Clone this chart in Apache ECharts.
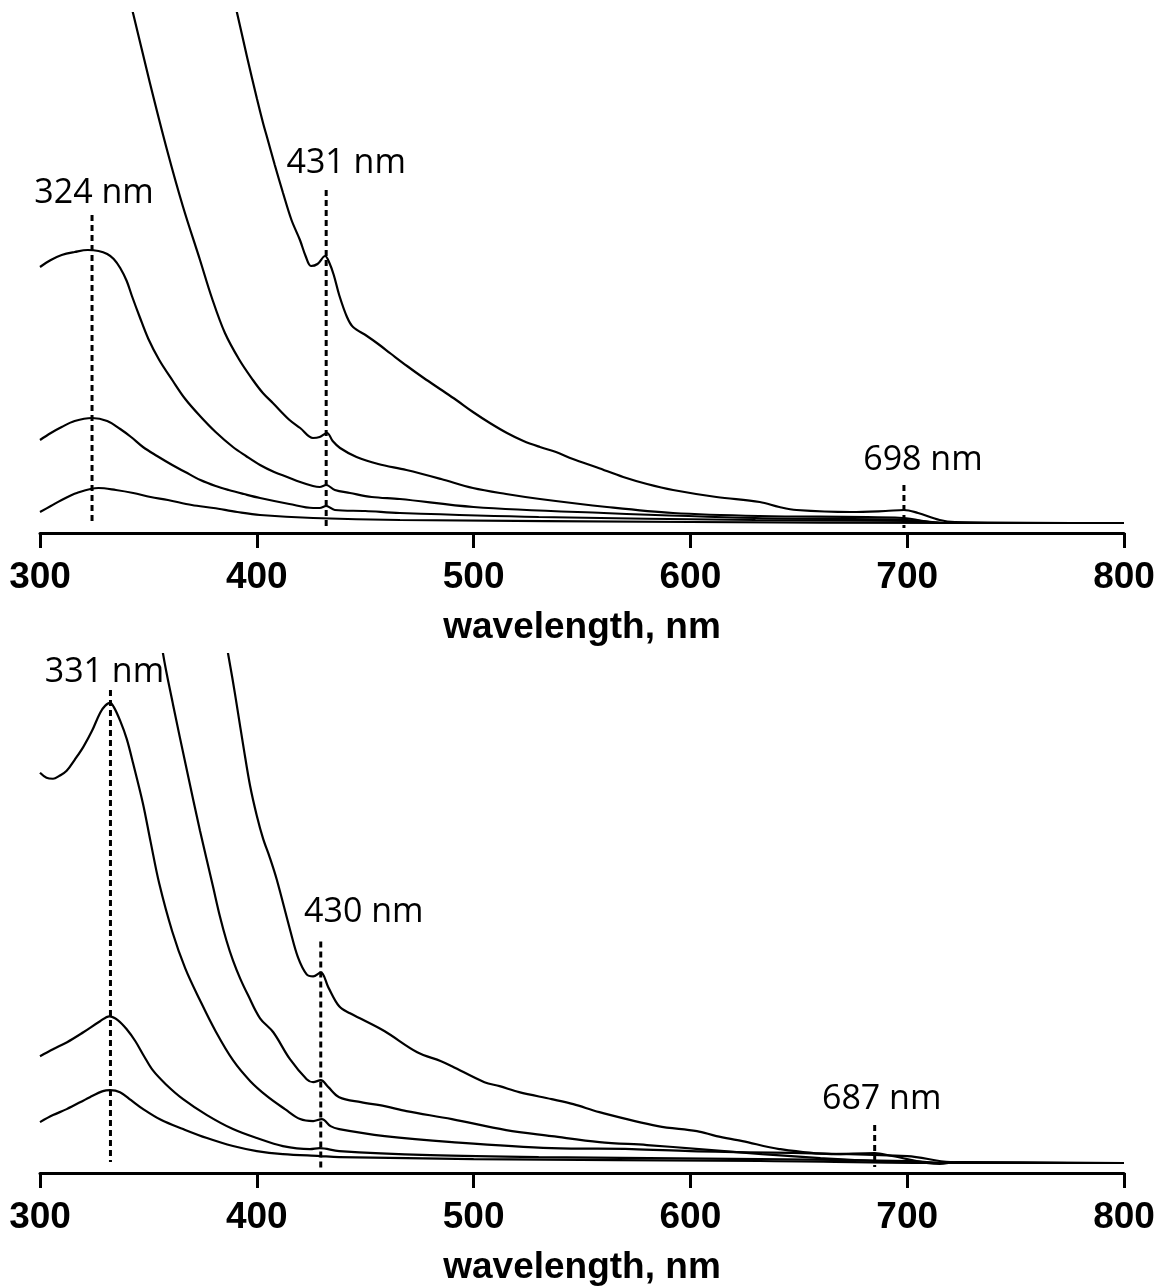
<!DOCTYPE html>
<html>
<head>
<meta charset="utf-8">
<script src="https://cdn.jsdelivr.net/npm/echarts@6/dist/echarts.min.js"></script>
<style>
html,body{margin:0;padding:0;background:#fff;}
#chart{width:1160px;height:1287px;}
</style>
</head>
<body>
<div id="chart"></div>
<script>
// x tick labels (nm)
const xTicks = [300, 400, 500, 600, 700, 800];

// ---- Top panel spectra: [wavelength nm, absorbance a.u.] ----
const topA = [[300,2.56],[305,2.63],[310,2.68],[316,2.71],[322,2.73],[327,2.72],[331,2.69],[334,2.64],[337,2.55],[340,2.42],[342.4,2.27],[346,2.06],[350,1.84],[355,1.63],[361.3,1.42],[367,1.24],[373.8,1.07],[381,0.91],[389,0.76],[395,0.67],[401.5,0.58],[408,0.51],[414,0.46],[420,0.41],[425.9,0.37],[429,0.36],[432,0.38],[436,0.33],[443,0.30],[453,0.26],[466,0.24],[500,0.16],[560,0.10],[630,0.05],[700,0.03],[720,0.0],[800,0.0]];
const topB = [[300,0.83],[305,0.90],[310,0.96],[316,1.02],[324,1.05],[331,1.02],[337,0.94],[342,0.86],[347.5,0.76],[354,0.67],[361,0.58],[367,0.51],[374,0.43],[381,0.37],[387,0.33],[394,0.29],[401.5,0.25],[415,0.19],[426,0.15],[429,0.15],[432,0.17],[436,0.13],[450,0.12],[466,0.10],[530,0.06],[630,0.03],[700,0.02],[720,0.0],[800,0.0]];
const topC = [[300,0.11],[305,0.17],[310,0.23],[317,0.30],[327,0.35],[335,0.33],[343,0.30],[351,0.26],[359,0.23],[370,0.18],[380,0.15],[391,0.11],[401.5,0.08],[426,0.05],[466,0.03],[600,0.01],[720,0.0],[800,0.0]];
const topD = [[337,5.60],[342.9,5.10],[350.7,4.40],[358.6,3.73],[366,3.16],[373.8,2.63],[379.3,2.25],[385.3,1.90],[392,1.63],[398.2,1.43],[402.8,1.30],[407.4,1.20],[415.1,1.03],[420,0.95],[425.9,0.85],[429,0.86],[432.4,0.90],[435,0.82],[438.4,0.75],[446,0.66],[456,0.59],[469,0.53],[485,0.44],[499.7,0.35],[515,0.29],[530.6,0.24],[561.5,0.16],[592,0.10],[632,0.07],[698,0.05],[715,0.0],[800,0.0]];
const topE = [[385,5.63],[390.9,5.10],[395.5,4.66],[400.1,4.24],[403,3.99],[404.7,3.86],[408.3,3.58],[412.1,3.30],[416,3.03],[419.9,2.83],[422.5,2.67],[425,2.57],[428,2.59],[431.5,2.67],[433.5,2.60],[435.5,2.48],[438,2.28],[441.6,2.06],[444.4,1.96],[450.8,1.87],[456,1.79],[462,1.69],[469.3,1.57],[477,1.45],[484.5,1.34],[492,1.23],[499.7,1.11],[507.5,1.00],[515.4,0.90],[523,0.82],[530.6,0.76],[538,0.71],[545.8,0.64],[557,0.555],[569,0.46],[580,0.39],[592,0.33],[612,0.26],[632,0.21],[641,0.16],[649,0.13],[674,0.11],[690,0.12],[698.5,0.13],[705,0.10],[715,0.03],[722,0.01],[800,0.0]];

// ---- Bottom panel spectra ----
const botA = [[300,3.91],[303,3.86],[306,3.85],[309,3.88],[312.3,3.93],[316,4.04],[320,4.17],[324,4.33],[327.7,4.51],[330,4.58],[332.3,4.61],[334,4.57],[337,4.43],[340,4.25],[343,4.00],[347.5,3.60],[351,3.22],[355,2.80],[361,2.32],[367,1.95],[373.8,1.63],[381,1.32],[389,1.03],[397,0.82],[404.7,0.67],[413,0.54],[420,0.44],[426,0.42],[430,0.44],[434,0.37],[438,0.34],[459,0.27],[490,0.21],[536,0.15],[573,0.14],[600,0.12],[700,0.07],[720,0.01],[800,0.0]];
const botB = [[300,1.07],[306,1.14],[312.5,1.21],[320,1.31],[327.7,1.42],[332,1.47],[336,1.43],[340,1.34],[344,1.22],[348,1.07],[352,0.93],[358,0.79],[366,0.64],[377,0.48],[389,0.34],[400,0.25],[412,0.17],[424.5,0.14],[429,0.15],[438,0.12],[480,0.08],[530,0.06],[632,0.04],[700,0.02],[720,0.0],[800,0.0]];
const botC = [[300,0.41],[306,0.48],[312.3,0.54],[323,0.66],[329,0.72],[332.3,0.73],[336.9,0.71],[342,0.63],[347.6,0.54],[356,0.43],[366,0.34],[377,0.25],[389,0.17],[400,0.12],[412,0.09],[429,0.07],[438,0.06],[500,0.04],[632,0.02],[720,0.0],[800,0.0]];
const botD = [[354.5,5.50],[356.7,5.11],[361.3,4.60],[367.8,3.93],[373.8,3.33],[379.8,2.77],[383,2.47],[386,2.23],[389,2.03],[392.3,1.85],[396,1.68],[401.5,1.45],[407.6,1.31],[415.3,1.04],[423,0.84],[426,0.81],[429.5,0.83],[433,0.76],[438,0.66],[448,0.61],[459,0.57],[469,0.52],[490,0.44],[515,0.33],[536,0.27],[558,0.21],[580,0.18],[604,0.14],[633,0.09],[660,0.05],[685,0.02],[720,0.0],[800,0.0]];
const botE = [[384,5.47],[386.7,5.11],[388.8,4.85],[390.9,4.57],[394,4.15],[396.9,3.78],[400,3.48],[402.9,3.25],[406,3.06],[409.2,2.84],[415.3,2.34],[419,2.06],[423,1.89],[426,1.87],[429.5,1.91],[433,1.76],[438,1.57],[443,1.50],[448.5,1.44],[459,1.32],[474,1.11],[485,1.02],[490,0.97],[505,0.81],[512,0.77],[521,0.71],[536,0.64],[546,0.59],[558,0.51],[585,0.37],[603,0.32],[612,0.27],[624,0.22],[641,0.14],[665,0.09],[685,0.10],[693,0.07],[715,-0.01],[723,0.01],[800,0.0]];

// ---- Peak markers ----
const topMarkNm = [324, 432, 698.5];
const topMarkTop = [3.08, 3.33, 0.38];
const topMarkBottom = [-0.02, -0.04, -0.05];
const topMarkText = ['324 nm', '431 nm', '698 nm'];

const botMarkNm = [332.5, 429.5, 685];
const botMarkTop = [4.74, 2.22, 0.38];
const botMarkBottom = [0.01, -0.06, -0.04];
const botMarkText = ['331 nm', '430 nm', '687 nm'];

// label offsets (style only)
const topLabelOffsets = [[2, 0], [20, -5], [19, -3]];
const botLabelOffsets = [[-6, 4], [43, -7], [7, -4]];

function curve(data, idx) {
  return {
    type: 'line', xAxisIndex: idx, yAxisIndex: idx, data: data,
    symbol: 'none', smooth: 0.35, clip: true, silent: true,
    lineStyle: { color: '#000', width: 2.2 }
  };
}
function marker(nm, top, bottom, text, offset, idx) {
  return {
    type: 'line', xAxisIndex: idx, yAxisIndex: idx, silent: true,
    symbol: 'circle', symbolSize: 0, showSymbol: true,
    lineStyle: { color: '#000', width: 3, type: [6, 4] },
    itemStyle: { color: '#000' },
    data: [
      { value: [nm, top], label: { show: true, position: 'top', formatter: text, offset: offset,
        fontFamily: 'Open Sans', fontSize: 34, color: '#000', distance: 5 } },
      { value: [nm, bottom] }
    ]
  };
}

function xAxisCfg(idx) {
  return {
    type: 'value', gridIndex: idx, min: 300, max: 800, interval: 100,
    name: 'wavelength, nm', nameLocation: 'middle', nameGap: 76,
    nameTextStyle: { fontFamily: 'Liberation Sans', fontWeight: 'bold', fontSize: 37, color: '#000' },
    axisLine: { show: true, onZero: false, lineStyle: { color: '#000', width: 3 } },
    axisTick: { show: true, length: 15, lineStyle: { color: '#000', width: 3 } },
    axisLabel: { show: true, margin: 26, fontFamily: 'Liberation Sans', fontWeight: 'bold', fontSize: 37, color: '#000',
      formatter: function (v) { return xTicks.indexOf(v) >= 0 ? String(v) : ''; } },
    splitLine: { show: false }
  };
}
function yAxisCfg(idx) {
  return { type: 'value', gridIndex: idx, min: -0.1, max: 5.1, show: false, splitLine: { show: false } };
}

const series = [];
[topA, topB, topC, topD, topE].forEach(d => series.push(curve(d, 0)));
[botA, botB, botC, botD, botE].forEach(d => series.push(curve(d, 1)));
topMarkNm.forEach((nm, i) => series.push(marker(nm, topMarkTop[i], topMarkBottom[i], topMarkText[i], topLabelOffsets[i], 0)));
botMarkNm.forEach((nm, i) => series.push(marker(nm, botMarkTop[i], botMarkBottom[i], botMarkText[i], botLabelOffsets[i], 1)));

const chart = echarts.init(document.getElementById('chart'), null, { renderer: 'canvas' });
chart.setOption({
  animation: false,
  backgroundColor: '#fff',
  grid: [
    { left: 40, right: 36, top: 13, height: 520 },
    { left: 40, right: 36, top: 654, height: 520 }
  ],
  xAxis: [xAxisCfg(0), xAxisCfg(1)],
  yAxis: [yAxisCfg(0), yAxisCfg(1)],
  series: series
});
</script>
</body>
</html>
